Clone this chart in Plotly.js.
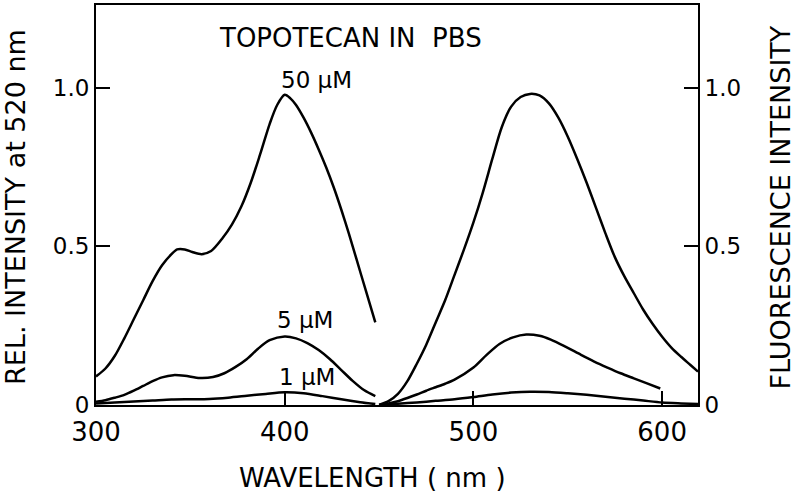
<!DOCTYPE html>
<html>
<head>
<meta charset="utf-8">
<script src="https://cdn.plot.ly/plotly-3.0.1.min.js"></script>
<style>html,body{margin:0;padding:0;background:#fff;}#chart{width:800px;height:494px;}</style>
</head>
<body>
<div id="chart"></div>
<script>
// Excitation (absorption) spectra, left axis
const abs50_x = [300,305,310,315,320,325,330,335,340,343,347,351,356,361,367,372,377,382,387,392,396,400,403,406,410,414,418,422,426,430,434,438,443,448];
const abs50_y = [0.09,0.115,0.155,0.21,0.27,0.33,0.39,0.44,0.475,0.49,0.49,0.482,0.475,0.485,0.525,0.568,0.625,0.70,0.79,0.885,0.945,0.977,0.966,0.945,0.905,0.858,0.805,0.748,0.685,0.615,0.54,0.46,0.36,0.26];
const abs5_x = [300,305,310,315,320,325,330,335,341,347,355,362,368,374,380,386,392,400,406,412,418,424,430,436,442,448];
const abs5_y = [0.01,0.015,0.023,0.032,0.045,0.06,0.075,0.087,0.094,0.092,0.085,0.088,0.10,0.12,0.145,0.178,0.204,0.216,0.21,0.195,0.173,0.144,0.11,0.076,0.047,0.028];
const abs1_x = [300,310,320,330,340,350,360,370,380,390,400,410,420,430,440,448];
const abs1_y = [0.005,0.008,0.011,0.014,0.017,0.018,0.019,0.023,0.029,0.035,0.04,0.037,0.028,0.018,0.009,0.003];
// Emission spectra, right axis
const em50_x = [450,455,460,465,470,475,480,485,490,495,500,505,510,515,520,525,530,535,540,545,550,555,560,565,570,575,580,585,590,595,600,605,610,615,619];
const em50_y = [0.0,0.012,0.035,0.075,0.13,0.19,0.26,0.33,0.41,0.49,0.575,0.67,0.775,0.875,0.94,0.97,0.98,0.975,0.95,0.905,0.845,0.775,0.70,0.62,0.54,0.465,0.405,0.352,0.30,0.255,0.215,0.18,0.152,0.126,0.105];
const em5_x = [450,455,460,465,470,475,480,485,490,500,507,514,521,528,535,541,549,557,564,571,578,585,592,599];
const em5_y = [0.0,0.005,0.012,0.022,0.033,0.045,0.056,0.067,0.08,0.118,0.158,0.193,0.213,0.222,0.218,0.206,0.183,0.158,0.137,0.118,0.10,0.084,0.068,0.052];
const em1_x = [450,460,470,480,490,500,510,520,530,540,550,560,570,580,590,600,610,619];
const em1_y = [0.0,0.004,0.008,0.013,0.018,0.025,0.033,0.039,0.042,0.041,0.037,0.032,0.026,0.02,0.014,0.008,0.005,0.003];

const xTickVals = [300,400,500,600];
const xTickText = ['300','400','500','600'];
const yTickVals = [0,0.5,1.0];
const yTickText = ['0','0.5','1.0'];
const labels = ['TOPOTECAN IN  PBS','50 μM','5 μM','1 μM'];
const labelX = [435,417,411,412];
const labelY = [1.155,1.025,0.267,0.088];
const titles = ['WAVELENGTH ( nm )','REL. INTENSITY at 520 nm','FLUORESCENCE INTENSITY'];

const F = 'DejaVu Sans, sans-serif';
const line = {color:'#000', width:2.5, shape:'spline', smoothing:0.8};
function tr(x,y,ax){return {x:x,y:y,type:'scatter',mode:'lines',line:line,yaxis:ax,hoverinfo:'skip'};}
const data = [
  tr(abs50_x,abs50_y,'y'), tr(abs5_x,abs5_y,'y'), tr(abs1_x,abs1_y,'y'),
  tr(em50_x,em50_y,'y2'), tr(em5_x,em5_y,'y2'), tr(em1_x,em1_y,'y2')
];
const annotations = labels.map((t,i)=>({x:labelX[i],y:labelY[i],xref:'x',yref:'y',text:t,showarrow:false,font:{family:F,size:i===0?26:23,color:'#000'}}));
annotations.push({xref:'paper',yref:'paper',x:0.46,y:-0.183,xanchor:'center',yanchor:'middle',text:titles[0],showarrow:false,font:{family:F,size:26,color:'#000'}});
annotations.push({xref:'paper',yref:'paper',x:-0.1346,y:0.495,xanchor:'center',yanchor:'middle',textangle:-90,text:titles[1],showarrow:false,font:{family:F,size:27,color:'#000'}});
annotations.push({xref:'paper',yref:'paper',x:1.137,y:0.495,xanchor:'center',yanchor:'middle',textangle:-90,text:titles[2],showarrow:false,font:{family:F,size:27,color:'#000'}});
const axCommon = {showgrid:false,zeroline:false,showline:true,linecolor:'#000',linewidth:2,ticks:'inside',ticklen:14,tickwidth:2,tickcolor:'#000',tickfont:{family:F,size:23,color:'#000'}};
const layout = {
  width:800,height:494,
  margin:{l:96,r:102,t:5,b:89},
  paper_bgcolor:'#fff',plot_bgcolor:'#fff',
  showlegend:false,
  xaxis:Object.assign({},axCommon,{range:[300,619],tickvals:xTickVals,ticktext:xTickText,mirror:true,
    tickfont:{family:F,size:26,color:'#000'},ticklabelstandoff:3}),
  yaxis:Object.assign({},axCommon,{range:[0,1.26],tickvals:yTickVals,ticktext:yTickText}),
  yaxis2:Object.assign({},axCommon,{range:[0,1.26],tickvals:yTickVals,ticktext:yTickText,overlaying:'y',side:'right'}),
  annotations:annotations
};
Plotly.newPlot('chart',data,layout,{displayModeBar:false,staticPlot:true});
</script>
</body>
</html>
